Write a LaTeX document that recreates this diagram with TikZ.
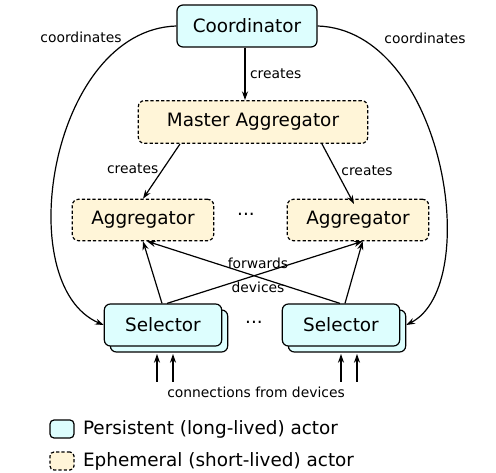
\documentclass[tikz,border=0pt]{standalone}
\usepackage{fontspec}
\setmainfont{DejaVu Sans}
\usetikzlibrary{arrows.meta,shadows}
\definecolor{persistfill}{RGB}{221,254,254}
\definecolor{ephemfill}{RGB}{255,245,216}

\begin{document}
\begin{tikzpicture}[x=0.75pt,y=-0.75pt,line width=0.9pt,>={Stealth[length=2.3mm,width=1.6mm]},
    persist/.style={draw,fill=persistfill,rounded corners=4.5pt,font=\fontsize{13.8}{16}\selectfont},
    ephem/.style={draw,fill=ephemfill,rounded corners=4.5pt,dash pattern=on 2.4pt off 1.6pt,font=\fontsize{13.8}{16}\selectfont},
    lbl/.style={font=\fontsize{10.4}{12}\selectfont}]
  \useasboundingbox (0,0) rectangle (496,473);
  % actors
  \node[persist,minimum width=105pt,minimum height=31.5pt] (coord) at (247,26) {Coordinator};
  \node[ephem,minimum width=172pt,minimum height=32pt] (master) at (253,122) {Master Aggregator};
  \node[ephem,minimum width=106pt,minimum height=31pt] (aggL) at (143,220) {Aggregator};
  \node[ephem,minimum width=106pt,minimum height=31pt] (aggR) at (358,220) {Aggregator};
  \node[font=\fontsize{13.8}{16}\selectfont] (dotsA) at (246,214) {...};
  \node[persist,minimum width=88pt,minimum height=31.5pt,copy shadow={shadow xshift=4.5pt,shadow yshift=-4.5pt}] (selL) at (163,325) {Selector};
  \node[persist,minimum width=88pt,minimum height=31.5pt,copy shadow={shadow xshift=4.5pt,shadow yshift=-4.5pt}] (selR) at (341,325) {Selector};
  \node[font=\fontsize{13.8}{16}\selectfont] (dotsS) at (254,322) {...};
  % creates
  \draw[->] ([xshift=-1.5pt]coord.south) -- ([xshift=-1.5pt]coord.south |- master.north) node[lbl,midway,right] {creates};
  \draw[->] (180,144) -- (aggL.north) node[lbl,pos=0.45,left] {creates};
  \draw[->] (322,144) -- (354,204) node[lbl,pos=0.45,right] {creates};
  % coordinates
  \draw[->] (coord.west) .. controls (50,30) and (10,285) .. (selL.west);
  \node[lbl] (coordsL) at (81,37) {coordinates};
  \draw[->] (coord.east) .. controls (444,30) and (484,285) .. ([xshift=4.5pt]selR.east);
  \node[lbl] (coordsR) at (425,38) {coordinates};
  % forwards devices
  \draw[->] ([xshift=-0.75pt]selL.north) -- (aggL.south);
  \draw[->] ([xshift=3pt]selL.north) -- ([xshift=3.5pt]aggR.south);
  \draw[->] ([xshift=3pt]selR.north) -- ([xshift=3.5pt]aggR.south);
  \draw[->] ([xshift=-0.75pt]selR.north) -- ([xshift=3pt]aggL.south);
  \node[lbl] (fwd) at (258,263) {forwards};
  \node[lbl] (dev) at (258,287) {devices};
  % connections
  \foreach \x in {157,173,341,357}{
    \coordinate (in\x) at (\x,382);
    \draw[->] (in\x) -- ++(0,-28);
  }
  \node[lbl] (conn) at (256,392) {connections from devices};
  % legend
  \node[persist,minimum width=18pt,minimum height=13.5pt,rounded corners=3pt] (keyP) at (62,429) {};
  \node[anchor=west,font=\fontsize{13.8}{16}\selectfont] (keyPtxt) at (78,429) {Persistent (long-lived) actor};
  \node[ephem,minimum width=18pt,minimum height=13.5pt,rounded corners=3pt] (keyE) at (62,461) {};
  \node[anchor=west,font=\fontsize{13.8}{16}\selectfont] (keyEtxt) at (78,461) {Ephemeral (short-lived) actor};
\end{tikzpicture}
\end{document}
